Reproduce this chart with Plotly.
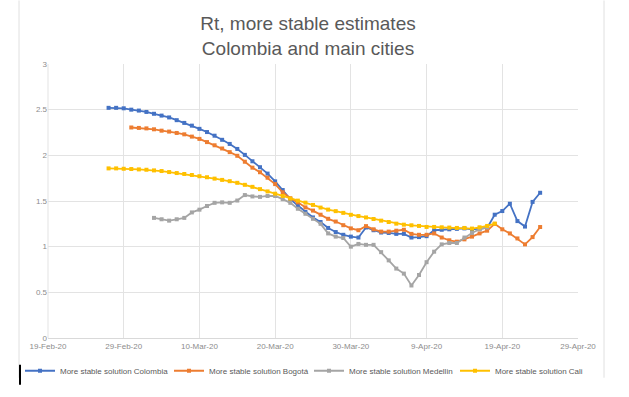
import pandas as pd
import plotly.graph_objects as go

# ---- data (daily estimates) ----
colombia_start = "2020-02-27"
colombia = [2.52, 2.52, 2.515, 2.50, 2.49, 2.475, 2.455, 2.435, 2.415, 2.385,
            2.355, 2.325, 2.29, 2.255, 2.215, 2.17, 2.125, 2.07, 2.005, 1.935,
            1.87, 1.80, 1.715, 1.62, 1.52, 1.45, 1.38, 1.32, 1.27, 1.205,
            1.16, 1.13, 1.11, 1.10, 1.21, 1.18, 1.155, 1.15, 1.14, 1.14,
            1.10, 1.105, 1.115, 1.18, 1.185, 1.19, 1.195, 1.20, 1.19, 1.195,
            1.205, 1.35, 1.39, 1.47, 1.28, 1.22, 1.49, 1.59]

bogota_start = "2020-03-01"
bogota = [2.305, 2.30, 2.295, 2.285, 2.27, 2.26, 2.245, 2.23, 2.205, 2.18,
          2.145, 2.11, 2.075, 2.035, 1.995, 1.93, 1.865, 1.815, 1.755, 1.685,
          1.595, 1.53, 1.485, 1.43, 1.395, 1.35, 1.305, 1.275, 1.235, 1.20,
          1.18, 1.225, 1.19, 1.165, 1.165, 1.175, 1.185, 1.14, 1.13, 1.13,
          1.145, 1.10, 1.07, 1.055, 1.08, 1.11, 1.145, 1.175, 1.25, 1.19,
          1.145, 1.09, 1.025, 1.105, 1.215]

medellin_start = "2020-03-04"
medellin = [1.315, 1.30, 1.285, 1.30, 1.315, 1.375, 1.405, 1.445, 1.48, 1.485,
            1.48, 1.505, 1.565, 1.55, 1.545, 1.555, 1.555, 1.52, 1.48, 1.415,
            1.36, 1.305, 1.25, 1.145, 1.11, 1.095, 1.00, 1.03, 1.02, 1.02,
            0.94, 0.85, 0.76, 0.705, 0.575, 0.69, 0.83, 0.945, 1.025, 1.04,
            1.04, 1.10, 1.15, 1.19, 1.21]

cali_start = "2020-02-27"
cali = [1.857, 1.857, 1.853, 1.85, 1.846, 1.842, 1.835, 1.828, 1.817, 1.806,
        1.796, 1.785, 1.771, 1.76, 1.745, 1.731, 1.717, 1.699, 1.677, 1.655,
        1.63, 1.605, 1.58, 1.555, 1.526, 1.504, 1.482, 1.457, 1.428, 1.406,
        1.389, 1.37, 1.349, 1.335, 1.32, 1.303, 1.285, 1.27, 1.252, 1.241,
        1.234, 1.227, 1.216, 1.216, 1.212, 1.209, 1.205, 1.205, 1.198, 1.212,
        1.227, 1.252]

series_names = ["More stable solution Colombia", "More stable solution Bogotá",
                "More stable solution Medellin", "More stable solution Cali"]
series_values = [colombia, bogota, medellin, cali]
series_starts = [colombia_start, bogota_start, medellin_start, cali_start]
colors = ["#4472C4", "#ED7D31", "#A5A5A5", "#FFC000"]

x_range = ["2020-02-19", "2020-04-29"]
y_ticks = [0, 0.5, 1, 1.5, 2, 2.5, 3]
y_ticktext = ["0", "0.5", "1", "1.5", "2", "2.5", "3"]

W, H = 629, 397
L, R, T, B = 48, 51, 64, 57
pw, ph = W - L - R, H - T - B


def px(xp):
    return (xp - L) / pw


def py(yp):
    return (H - B - yp) / ph


legend_ids = ["legend", "legend2", "legend3", "legend4"]
legend_left = [20, 169, 309, 455]   # left edge (px) of each legend entry

fig = go.Figure()
for name, vals, start, col, lid in zip(series_names, series_values, series_starts,
                                       colors, legend_ids):
    dates = pd.date_range(start, periods=len(vals), freq="D")
    fig.add_trace(go.Scatter(
        x=dates, y=vals, name=name, mode="lines+markers", legend=lid,
        line=dict(color=col, width=1.8),
        marker=dict(color=col, size=4, symbol="square"),
    ))

legends = {}
for lid, left in zip(legend_ids, legend_left):
    legends[lid] = dict(orientation="h", x=px(left), xanchor="left",
                        y=py(373), yanchor="middle",
                        font=dict(size=8, color="#595959"),
                        itemwidth=30, bgcolor="rgba(0,0,0,0)", borderwidth=0)

fig.update_layout(
    width=W, height=H,
    margin=dict(l=L, r=R, t=T, b=B),
    paper_bgcolor="white", plot_bgcolor="white",
    font=dict(family="Liberation Sans, Arial, sans-serif", color="#595959"),
    title=dict(text="Rt, more stable estimates<br>Colombia and main cities",
               font=dict(size=19, color="#595959"),
               x=308 / W, xref="container", xanchor="center",
               y=1 - 30 / H, yref="container", yanchor="top"),
    showlegend=True,
    xaxis=dict(type="date", range=x_range, tick0=x_range[0], dtick=10 * 86400000,
               tickformat="%-d-%b-%y", showgrid=True, gridcolor="#e3e3e3",
               gridwidth=1, zeroline=False, showline=True, linecolor="#d9d9d9",
               ticks="", tickfont=dict(size=8, color="#8c8c8c")),
    yaxis=dict(range=[0, 3], tickvals=y_ticks, ticktext=y_ticktext,
               showgrid=True, gridcolor="#e3e3e3", gridwidth=1, zeroline=False,
               showline=False, ticks="", tickfont=dict(size=8, color="#8c8c8c")),
    shapes=[
        dict(type="line", xref="paper", yref="paper", x0=px(19), x1=px(19),
             y0=py(0), y1=py(380), line=dict(color="#e0e0e0", width=1)),
        dict(type="line", xref="paper", yref="paper", x0=px(604), x1=px(604),
             y0=py(0), y1=py(380), line=dict(color="#e0e0e0", width=1)),
        dict(type="line", xref="paper", yref="paper", x0=px(20), x1=px(20),
             y0=py(367), y1=py(387), line=dict(color="black", width=2)),
        dict(type="line", xref="paper", yref="paper", x0=0, x1=0,
             y0=0, y1=1, line=dict(color="#e3e3e3", width=1)),
    ],
    **legends,
)

fig.write_html("out.html",
               config={"displayModeBar": False},
               post_script="document.body.style.margin='0px';"
                           "document.body.style.overflow='hidden';")
